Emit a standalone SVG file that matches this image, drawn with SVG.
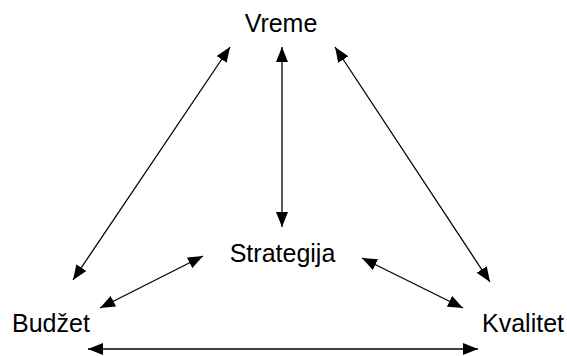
<svg xmlns="http://www.w3.org/2000/svg" width="567" height="356" viewBox="0 0 567 356">
<style>
text{font-family:"Liberation Sans",Arial,sans-serif;font-size:25px;fill:#000}
.c line{stroke:#000;stroke-width:1.3;marker-start:url(#ah);marker-end:url(#ah)}
</style>
<defs>
<marker id="ah" markerUnits="userSpaceOnUse" markerWidth="16" markerHeight="12" refX="15" refY="6" orient="auto-start-reverse" viewBox="0 0 16 12">
<path d="M0,0 L15,6 L0,12 z" fill="#000"/>
</marker>
</defs>
<rect width="567" height="356" fill="#fff"/>
<g id="vreme"><text x="281" y="32" text-anchor="middle">Vreme</text></g>
<g id="strategija"><text x="282.5" y="262" text-anchor="middle">Strategija</text></g>
<g id="budzet"><text x="12" y="332">Budžet</text></g>
<g id="kvalitet"><text x="482" y="332">Kvalitet</text></g>
<g class="c" id="connectors">
<line x1="282" y1="47" x2="282" y2="227"/>
<line x1="230" y1="47" x2="73" y2="280"/>
<line x1="335" y1="47" x2="490" y2="282"/>
<line x1="203" y1="256" x2="100" y2="308"/>
<line x1="362" y1="258" x2="463" y2="308"/>
<line x1="88" y1="349" x2="478" y2="349"/>
</g>
</svg>
